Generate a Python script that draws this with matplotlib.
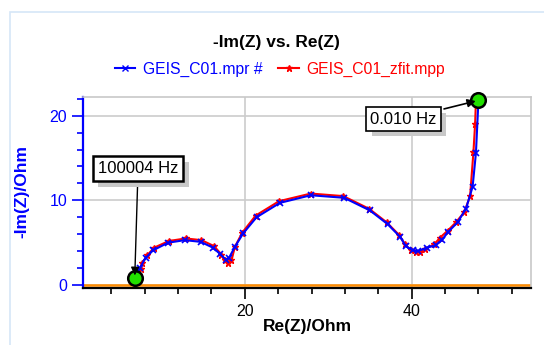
import matplotlib
matplotlib.use("Agg")
import matplotlib.pyplot as plt
import matplotlib.patheffects as pe
from matplotlib.ticker import MultipleLocator, FixedLocator
from matplotlib.lines import Line2D
from matplotlib.patches import Rectangle

plt.rcParams['font.family'] = ['Liberation Sans', 'DejaVu Sans']

# measured spectrum (blue)
re_meas = [6.8, 7.4, 8.1, 9.0, 10.8, 12.8, 14.7, 16.2, 17.0, 17.7, 18.1, 18.8,
           19.8, 21.4, 24.2, 27.9, 31.9, 35.0, 37.1, 38.6, 39.3, 40.1, 40.7,
           41.8, 42.9, 43.6, 44.4, 45.5, 46.5, 47.3, 47.7, 48.0]
im_meas = [0.8, 2.0, 3.2, 4.1, 5.0, 5.3, 5.1, 4.4, 3.7, 3.0, 3.2, 4.5,
           6.1, 8.0, 9.7, 10.6, 10.3, 8.8, 7.2, 5.7, 4.6, 4.1, 4.0,
           4.4, 4.7, 5.3, 6.3, 7.4, 9.0, 11.6, 15.6, 21.8]

# fitted spectrum (red)
re_fit = [6.8, 7.5, 7.7, 8.3, 9.1, 10.9, 12.9, 14.8, 16.3, 17.2, 17.6, 18.0,
          18.4, 18.8, 19.7, 21.3, 24.1, 27.9, 31.8, 34.9, 37.0, 38.5, 39.2,
          39.9, 40.5, 41.0, 41.6, 42.7, 43.4, 44.3, 45.3, 46.3, 47.0, 47.4,
          47.6, 47.7]
im_fit = [0.8, 1.9, 2.6, 3.5, 4.4, 5.2, 5.5, 5.3, 4.6, 3.6, 2.9, 2.6,
          2.9, 4.5, 6.2, 8.2, 9.9, 10.8, 10.5, 9.0, 7.4, 5.9, 4.8,
          4.1, 3.9, 3.9, 4.3, 4.8, 5.6, 6.4, 7.4, 8.6, 10.5, 15.7,
          19.0, 21.8]

fig = plt.figure(figsize=(5.44, 3.45), dpi=100)
ax = fig.add_axes([83 / 544, 1 - 288 / 345, 448 / 544, 191 / 345])

# panel border
fig.patches.append(Rectangle((10 / 544, -0.2), 1.2, 1 - 12 / 345 + 0.2,
                             transform=fig.transFigure, fill=False,
                             edgecolor='#d6e6f7', lw=1.2))

ax.axhline(0, color='#ff8c00', lw=1.8, zorder=2)
ax.plot(re_fit, im_fit, color='red', marker='*', ms=4.5, lw=1.5, zorder=3)
ax.plot(re_meas, im_meas, color='blue', marker='x', ms=4, mew=1.2, lw=1.5, zorder=4)

# start / end markers
ends = [(re_meas[0], im_meas[0]), (re_meas[-1], im_meas[-1])]
for x, y in ends:
    ax.plot(x, y, 'o', ms=10.5, mfc='#22e000', mec='black', mew=1.8,
            zorder=6, clip_on=False)

shadow = [pe.withSimplePatchShadow(offset=(4, -4), shadow_rgbFace='#c8c8c8', alpha=1)]
t1 = ax.annotate('100004 Hz', xy=ends[0], xytext=(7.2, 13.7), fontsize=12,
                 ha='center', va='center',
                 bbox=dict(boxstyle='square,pad=0.3', fc='white', ec='black', lw=1.8),
                 arrowprops=dict(arrowstyle='-|>', color='black', lw=1, shrinkB=2),
                 zorder=7)
t2 = ax.annotate('0.010 Hz', xy=ends[1], xytext=(39.0, 19.6), fontsize=12,
                 ha='center', va='center',
                 bbox=dict(boxstyle='square,pad=0.25', fc='white', ec='black', lw=1.2),
                 arrowprops=dict(arrowstyle='-|>', color='black', lw=1.2, shrinkB=2),
                 zorder=7, annotation_clip=False)
for t in (t1, t2):
    t.get_bbox_patch().set_path_effects(shadow)

ax.set_xlim(0.6, 54.3)
ax.set_ylim(-0.35, 22.2)
ax.xaxis.set_major_locator(FixedLocator([20, 40]))
ax.xaxis.set_minor_locator(MultipleLocator(4))
ax.yaxis.set_major_locator(FixedLocator([0, 10, 20]))
ax.yaxis.set_minor_locator(MultipleLocator(2))
ax.grid(True, which='major', color='#cccccc', lw=1.2)
ax.set_axisbelow(True)

ax.tick_params(axis='x', which='major', length=8, width=1.2, colors='black', labelsize=11.5)
ax.tick_params(axis='x', which='minor', length=4, width=1.2, colors='black')
ax.tick_params(axis='y', which='major', length=8, width=1.2, colors='blue', labelsize=11.5)
ax.tick_params(axis='y', which='minor', length=4, width=1.2, colors='blue')

ax.spines['left'].set_color('blue')
ax.spines['left'].set_linewidth(1.6)
ax.spines['bottom'].set_color('black')
ax.spines['bottom'].set_linewidth(1.6)
for s in ('top', 'right'):
    ax.spines[s].set_color('#c8c8c8')
    ax.spines[s].set_linewidth(1.2)

fig.text(276 / 544, 1 - 42 / 345, '-Im(Z) vs. Re(Z)', ha='center', va='center',
         fontsize=12.5, fontweight='bold')
fig.text(307 / 544, 1 - 327 / 345, 'Re(Z)/Ohm', ha='center', va='center',
         fontsize=12.5, fontweight='bold')
fig.text(22 / 544, 1 - 192 / 345, '-Im(Z)/Ohm', ha='center', va='center',
         fontsize=12.5, fontweight='bold', color='blue', rotation=90)

handles = [Line2D([], [], color='blue', marker='x', ms=4, lw=1.5),
           Line2D([], [], color='red', marker='*', ms=4.5, lw=1.5)]
leg = fig.legend(handles, ['GEIS_C01.mpr #', 'GEIS_C01_zfit.mpp'], ncol=2,
                 loc='center', bbox_to_anchor=(280 / 544, 1 - 69 / 345),
                 frameon=False, fontsize=11.3, handlelength=1.3,
                 handletextpad=0.5, columnspacing=1.0)
for txt, c in zip(leg.get_texts(), ['blue', 'red']):
    txt.set_color(c)

fig.savefig('out.png', dpi=100)
